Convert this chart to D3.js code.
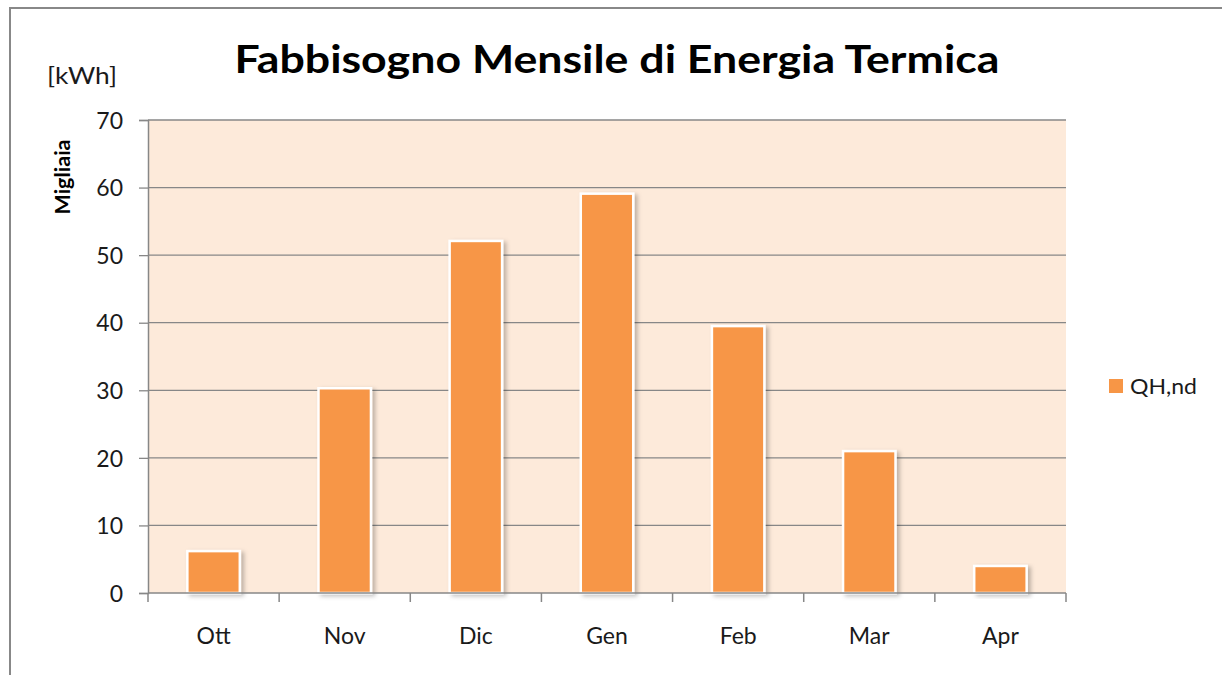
<!DOCTYPE html>
<html>
<head>
<meta charset="utf-8">
<script src="https://cdn.jsdelivr.net/npm/d3@7"></script>
<style>
  html, body { margin: 0; padding: 0; background: #ffffff; }
  svg { display: block; }
  text { font-family: Lato, "Open Sans", "Liberation Sans", sans-serif; }
</style>
</head>
<body>
<svg id="chart" width="1222" height="675"></svg>
<script>
// Monthly thermal energy demand (thousands of kWh)
const months = ["Ott", "Nov", "Dic", "Gen", "Feb", "Mar", "Apr"];
const qhnd = [6.2, 30.3, 52.1, 59.1, 39.5, 21.0, 4.0];
const yTicks = [0, 10, 20, 30, 40, 50, 60, 70];
const seriesName = "QH,nd";
const chartTitle = "Fabbisogno Mensile di Energia Termica";

const svg = d3.select("#chart");

const plot = { left: 148, right: 1066, top: 120, bottom: 593 };

const x = d3.scaleBand()
  .domain(months)
  .range([plot.left, plot.right])
  .paddingInner(0.6)
  .paddingOuter(0.3);

const y = d3.scaleLinear()
  .domain([0, 70])
  .range([plot.bottom, plot.top]);

const defs = svg.append("defs");
const shadow = defs.append("filter").attr("id", "barShadow")
  .attr("x", "-20%").attr("y", "-10%").attr("width", "150%").attr("height", "130%");
shadow.append("feDropShadow")
  .attr("dx", 3).attr("dy", 2).attr("stdDeviation", 2)
  .attr("flood-color", "#000").attr("flood-opacity", 0.25);

// outer chart frame
svg.append("rect")
  .attr("x", 10).attr("y", 8)
  .attr("width", 1240).attr("height", 700)
  .attr("fill", "none").attr("stroke", "#888888").attr("stroke-width", 2);

// plot background
svg.append("rect")
  .attr("x", plot.left).attr("y", plot.top)
  .attr("width", plot.right - plot.left).attr("height", plot.bottom - plot.top)
  .attr("fill", "#FDEADA");

// horizontal gridlines
svg.append("g")
  .selectAll("line")
  .data(yTicks.filter(d => d > 0))
  .join("line")
  .attr("x1", plot.left).attr("x2", plot.right)
  .attr("y1", d => y(d)).attr("y2", d => y(d))
  .attr("stroke", "#878787").attr("stroke-width", 1.3);

// y axis
const yAxis = svg.append("g")
  .attr("transform", `translate(${plot.left},0)`)
  .call(d3.axisLeft(y).tickValues(yTicks).tickSize(9).tickPadding(16).tickFormat(d3.format("d")));
yAxis.select(".domain").attr("stroke", "#878787").attr("stroke-width", 1.5);
yAxis.selectAll(".tick line").attr("stroke", "#878787").attr("stroke-width", 1.3);
yAxis.selectAll(".tick text")
  .attr("fill", "#1a1a1a").attr("font-size", 23).attr("dy", "0.36em");

// bars
svg.append("g")
  .selectAll("rect")
  .data(months.map((m, i) => ({ m, v: qhnd[i] })))
  .join("rect")
  .attr("x", d => x(d.m))
  .attr("y", d => y(d.v))
  .attr("width", x.bandwidth())
  .attr("height", d => y(0) - y(d.v))
  .attr("fill", "#F79646")
  .attr("stroke", "#ffffff")
  .attr("stroke-width", 2.5)
  .attr("filter", "url(#barShadow)");

// x axis with ticks at category boundaries
const xg = svg.append("g").attr("transform", `translate(0,${plot.bottom})`);
xg.append("line")
  .attr("x1", plot.left).attr("x2", plot.right)
  .attr("y1", 0).attr("y2", 0)
  .attr("stroke", "#878787").attr("stroke-width", 1.5);
const bounds = months.map(m => x(m) - x.step() * x.paddingInner() / 2);
bounds.push(plot.right);
bounds[0] = plot.left;
xg.selectAll("line.tk")
  .data(bounds)
  .join("line")
  .attr("class", "tk")
  .attr("x1", d => d).attr("x2", d => d)
  .attr("y1", 0).attr("y2", 9)
  .attr("stroke", "#878787").attr("stroke-width", 1.5);
xg.selectAll("text")
  .data(months)
  .join("text")
  .attr("x", d => x(d) + x.bandwidth() / 2)
  .attr("y", 51)
  .attr("text-anchor", "middle")
  .attr("font-size", 23)
  .attr("fill", "#1a1a1a")
  .text(d => d);

// title
svg.append("text")
  .attr("x", 617).attr("y", 73)
  .attr("text-anchor", "middle")
  .attr("font-size", 39)
  .attr("font-weight", "bold")
  .attr("fill", "#000")
  .attr("textLength", 765)
  .attr("lengthAdjust", "spacingAndGlyphs")
  .text(chartTitle);

// unit labels
svg.append("text")
  .attr("x", 47).attr("y", 84)
  .attr("font-size", 24)
  .attr("fill", "#1a1a1a")
  .attr("textLength", 70)
  .attr("lengthAdjust", "spacingAndGlyphs")
  .text("[kWh]");

svg.append("text")
  .attr("transform", "translate(70,177) rotate(-90)")
  .attr("text-anchor", "middle")
  .attr("font-size", 21)
  .attr("font-weight", "bold")
  .attr("fill", "#000")
  .attr("textLength", 75)
  .attr("lengthAdjust", "spacingAndGlyphs")
  .text("Migliaia");

// legend
const lg = svg.append("g").attr("transform", "translate(1109,379)");
lg.append("rect")
  .attr("width", 14).attr("height", 14)
  .attr("fill", "#F79646");
lg.append("text")
  .attr("x", 21).attr("y", 15)
  .attr("font-size", 22)
  .attr("fill", "#1a1a1a")
  .attr("textLength", 67)
  .attr("lengthAdjust", "spacingAndGlyphs")
  .text(seriesName);
</script>
</body>
</html>
